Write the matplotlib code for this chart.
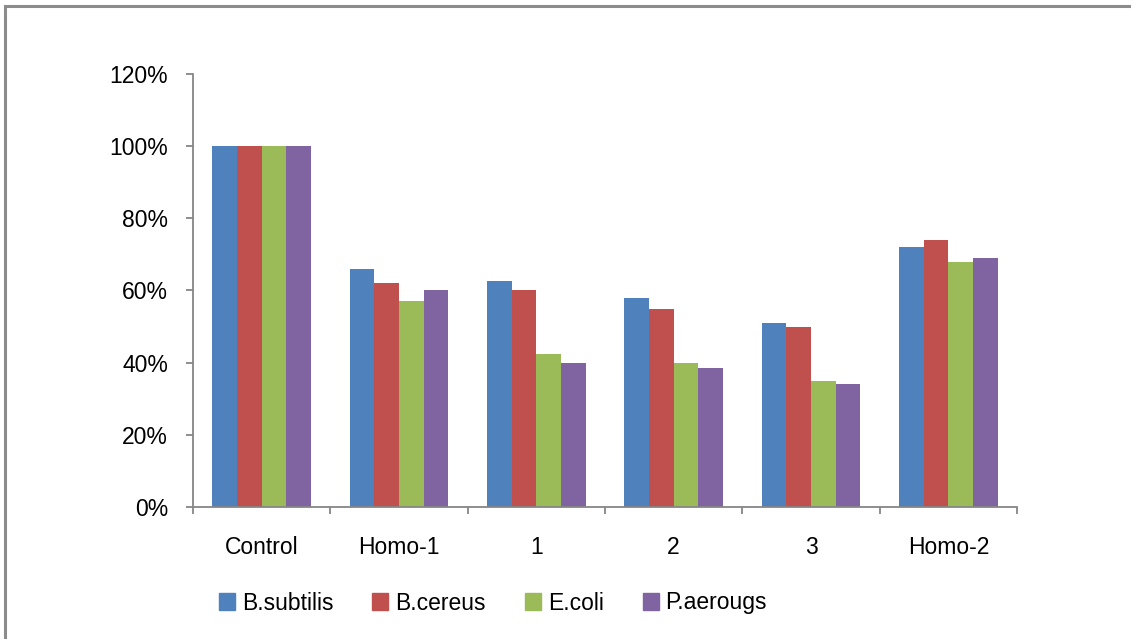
import numpy as np
import matplotlib.pyplot as plt
import matplotlib.patches as mpatches
from matplotlib.ticker import FuncFormatter

categories = ['Control', 'Homo-1', '1', '2', '3', 'Homo-2']
series_names = ['B.subtilis', 'B.cereus', 'E.coli', 'P.aerougs']
b_subtilis = [100, 66, 62.5, 58, 51, 72]
b_cereus = [100, 62, 60, 55, 50, 74]
e_coli = [100, 57, 42.5, 40, 35, 68]
p_aerougs = [100, 60, 40, 38.5, 34, 69]
colors = ['#4F81BD', '#C0504D', '#9BBB59', '#8064A2']

plt.rcParams['font.family'] = ['Liberation Sans', 'DejaVu Sans']
fs = 16.5

fig = plt.figure(figsize=(11.31, 6.39), dpi=100)
ax = fig.add_axes([0.1706, 0.2066, 0.7286, 0.6776])

# grey frame round the chart (only left/top visible in the reference)
frame = mpatches.Rectangle((5 / 1131, -0.1), 1.2, 1.1 - 6 / 639, transform=fig.transFigure,
                           fill=False, edgecolor='#8c8c8c', linewidth=2.2)
fig.patches.append(frame)

x = np.arange(len(categories))
width = 0.18
all_series = [b_subtilis, b_cereus, e_coli, p_aerougs]
for i, vals in enumerate(all_series):
    ax.bar(x + (i - 1.5) * width, vals, width, color=colors[i], label=series_names[i])

ax.set_xlim(-0.5, len(categories) - 0.5)
ax.set_ylim(0, 120)
ax.set_yticks(range(0, 121, 20))
ax.yaxis.set_major_formatter(FuncFormatter(lambda v, p: f'{v:.0f}%'))

ax.set_xticks(x)
ax.set_xticklabels(categories)
ax.set_xticks(np.arange(-0.5, len(categories)), minor=True)
ax.tick_params(axis='x', which='major', length=0, pad=21, labelsize=fs)
ax.tick_params(axis='x', which='minor', length=5, width=1.3, color='#868686', direction='out')
ax.tick_params(axis='y', length=5, width=1.3, color='#868686', pad=13, labelsize=fs)

for s in ['top', 'right']:
    ax.spines[s].set_visible(False)
for s in ['left', 'bottom']:
    ax.spines[s].set_color('#868686')
    ax.spines[s].set_linewidth(1.3)

handles = [mpatches.Patch(color=c, label=n) for c, n in zip(colors, series_names)]
fig.legend(handles=handles, loc='center', bbox_to_anchor=(493 / 1131, 1 - 603 / 639), ncol=4,
           frameon=False, fontsize=fs, handlelength=0.7, handleheight=0.7,
           handletextpad=0.3, columnspacing=1.7)

fig.savefig('out.png', dpi=100)
